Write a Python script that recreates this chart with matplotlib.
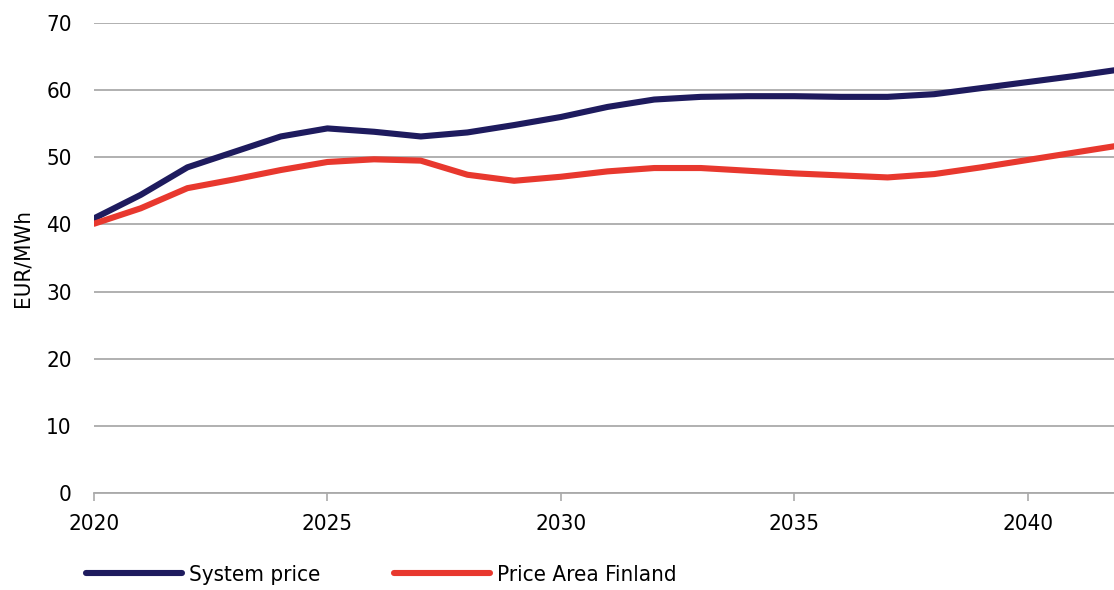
import matplotlib
matplotlib.use("Agg")
import matplotlib.pyplot as plt

years = [2020, 2021, 2022, 2023, 2024, 2025, 2026, 2027, 2028, 2029, 2030,
         2031, 2032, 2033, 2034, 2035, 2036, 2037, 2038, 2039, 2040, 2041, 2042]
system_price = [40.9, 44.4, 48.5, 50.8, 53.1, 54.3, 53.8, 53.1, 53.7, 54.8, 56.0,
                57.5, 58.6, 59.0, 59.1, 59.1, 59.0, 59.0, 59.4, 60.3, 61.2, 62.1, 63.1]
finland_price = [40.1, 42.4, 45.4, 46.7, 48.1, 49.3, 49.7, 49.5, 47.4, 46.5, 47.1,
                 47.9, 48.4, 48.4, 48.0, 47.6, 47.3, 47.0, 47.5, 48.5, 49.6, 50.7, 51.8]
series_labels = ["System price", "Price Area Finland"]
y_ticks = [0, 10, 20, 30, 40, 50, 60, 70]
x_ticks = [2020, 2025, 2030, 2035, 2040]
y_label = "EUR/MWh"

plt.rcParams['font.family'] = ['DejaVu Sans']
plt.rcParams['font.stretch'] = 'condensed'

fig = plt.figure(figsize=(11.14, 5.90), dpi=100)
ax = fig.add_axes([94/1114, 97/590, 1 - 94/1114, (493-23)/590])

navy = "#1e1b5e"
red = "#e8382e"
l1, = ax.plot(years, system_price, color=navy, lw=4.4, solid_capstyle='round',
              solid_joinstyle='round', label=series_labels[0], zorder=3)
l2, = ax.plot(years, finland_price, color=red, lw=4.4, solid_capstyle='round',
              solid_joinstyle='round', label=series_labels[1], zorder=3)

ax.set_xlim(2020, 2041.85)
ax.set_ylim(0, 70)
ax.set_yticks(y_ticks)
ax.set_xticks(x_ticks)
ax.grid(axis='y', color='#aaaaaa', lw=1.3)
ax.set_axisbelow(True)
for s in ['top', 'right', 'left']:
    ax.spines[s].set_visible(False)
ax.spines['bottom'].set_color('#aaaaaa')
ax.spines['bottom'].set_linewidth(1.3)
ax.tick_params(axis='y', length=0, pad=16, labelsize=16)
ax.tick_params(axis='x', length=6, width=1.2, color='#aaaaaa', pad=9, labelsize=16)
ax.set_ylabel(y_label, fontsize=16, labelpad=10)
for lbl in ax.get_xticklabels() + ax.get_yticklabels():
    lbl.set_clip_on(False)

fig.legend(handles=[l1, l2], labels=series_labels, loc='center left',
           bbox_to_anchor=(66/1114, 15/590), ncol=2, frameon=False, fontsize=16,
           handlelength=4.3, handletextpad=0.35, columnspacing=3.3)

fig.savefig("out.png", dpi=100)
